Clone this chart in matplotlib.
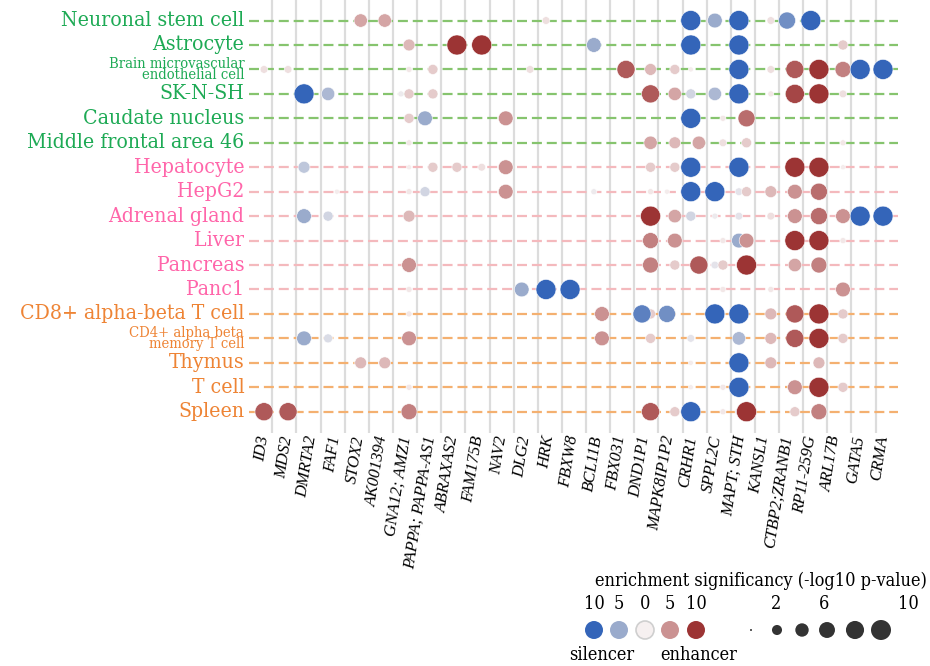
import numpy as np
import matplotlib
matplotlib.use("Agg")
import matplotlib.pyplot as plt
from matplotlib.colors import LinearSegmentedColormap

# ---------------- data ----------------
genes = ["ID3", "MDS2", "DMRTA2", "FAF1", "STOX2", "AK001394", "GNA12; AMZ1",
         "PAPPA; PAPPA-AS1", "ABRAXAS2", "FAM175B", "NAV2", "DLG2", "HRK", "FBXW8",
         "BCL11B", "FBX031", "DND1P1", "MAPK8IP1P2", "CRHR1", "SPPL2C", "MAPT; STH",
         "KANSL1", "CTBP2;ZRANB1", "RP11-259G", "ARL17B", "GATA5", "CRMA"]

tissues = ["Neuronal stem cell", "Astrocyte", "Brain microvascular\nendothelial cell",
           "SK-N-SH", "Caudate nucleus", "Middle frontal area 46",
           "Hepatocyte", "HepG2", "Adrenal gland", "Liver", "Pancreas", "Panc1",
           "CD8+ alpha-beta T cell", "CD4+ alpha beta\nmemory T cell", "Thymus",
           "T cell", "Spleen"]
tissue_group = ["brain"] * 6 + ["liver"] * 6 + ["immune"] * 5

# each dot: x position (gene-index units), signed enrichment (- silencer, + enhancer)
row_neuronal = [(4.06, 4), (5.07, 4), (11.84, 1), (17.92, -10), (18.93, -5), (19.94, -10),
                (21.28, 1), (21.96, -7), (22.96, -10)]
row_astro = [(6.09, 3), (8.10, 10), (9.14, 10), (13.85, -5), (17.92, -10), (19.94, -10), (24.31, 2)]
row_bmec = [(0.0, 1), (1.01, 1), (6.09, 0.5), (7.09, 2), (11.17, 1), (15.20, 8), (16.23, 3),
            (17.25, 2), (17.92, 0.3), (19.94, -10), (21.28, 1), (22.29, 8), (23.30, 10),
            (24.31, 6), (25.03, -10), (25.99, -10)]
row_sknsh = [(1.68, -10), (2.69, -4), (5.75, -0.5), (6.09, 2), (7.09, 2), (16.23, 8), (17.25, 4),
             (17.92, -2), (18.93, -4), (19.94, -10), (21.28, 0.5), (22.29, 9), (23.30, 10), (24.31, 1)]
row_caudate = [(6.09, 2), (6.76, -5), (10.15, 5), (17.92, -10), (19.27, 0.5), (20.26, 7)]
row_mfa46 = [(6.09, 0.5), (16.23, 4), (17.25, 3), (18.26, 4), (19.27, 1), (20.26, 2), (24.31, 0.5)]
row_hepatocyte = [(1.68, -3), (6.09, 0.3), (7.09, 2), (8.10, 2), (9.14, 1), (10.15, 5), (16.23, 2),
                  (17.25, 2), (17.92, -10), (19.94, -10), (22.29, 10), (23.30, 10), (24.31, 0.3)]
row_hepg2 = [(3.06, 0.3), (6.09, 0.5), (6.76, -2), (10.15, 5), (13.85, -0.5), (16.23, 0.5),
             (16.92, 0.3), (17.92, -10), (18.93, -10), (19.94, -1), (20.26, 2), (21.28, 3),
             (22.29, 5), (23.30, 7)]
row_adrenal = [(1.68, -5), (2.69, -2), (6.09, 3), (16.23, 10), (17.25, 4), (17.92, -2),
               (18.93, -0.5), (19.94, -1), (21.28, 1), (22.29, 5), (23.30, 7), (24.31, 5),
               (25.03, -10), (25.99, -10)]
row_liver = [(16.23, 6), (17.25, 5), (19.27, 0.5), (19.94, -5), (20.26, 5), (22.29, 10),
             (23.30, 10), (24.31, 0.5)]
row_pancreas = [(6.09, 5), (16.23, 6), (17.25, 2), (18.26, 8), (18.93, -1), (19.27, 2),
                (19.94, -0.5), (20.26, 10), (22.29, 4), (23.30, 6)]
row_panc1 = [(6.09, 0.5), (10.82, -5), (11.84, -10), (12.85, -10), (19.27, 0.5), (21.28, 0.5), (24.31, 5)]
row_cd8 = [(6.09, 0.5), (14.19, 5), (15.87, -8), (16.23, 2), (16.92, -7), (18.93, -10),
           (19.94, -10), (21.28, 3), (22.29, 8), (23.30, 10), (24.31, 2)]
row_cd4 = [(1.68, -5), (2.69, -1.5), (6.09, 5), (14.19, 5), (16.23, 2), (17.92, -1), (19.94, -4),
           (21.28, 3), (22.29, 8), (23.30, 10), (24.31, 2)]
row_thymus = [(4.06, 3), (5.07, 3), (17.92, 0.3), (19.94, -10), (21.28, 3), (23.30, 3)]
row_tcell = [(6.09, 0.5), (17.92, 0.3), (19.27, 0.5), (19.94, -10), (22.29, 5), (23.30, 10), (24.31, 2)]
row_spleen = [(0.0, 8), (1.01, 8), (6.09, 6), (16.23, 8), (17.25, 2), (17.92, -10), (19.27, 0.5),
              (19.94, -1), (20.26, 10), (22.29, 2), (23.30, 6)]

rows = [row_neuronal, row_astro, row_bmec, row_sknsh, row_caudate, row_mfa46,
        row_hepatocyte, row_hepg2, row_adrenal, row_liver, row_pancreas, row_panc1,
        row_cd8, row_cd4, row_thymus, row_tcell, row_spleen]

legend_color_vals = [-10, -5, 0, 5, 10]
legend_color_labels = ["10", "5", "0", "5", "10"]
legend_size_vals = [0, 2, 4, 6, 8, 10]

# ---------------- style ----------------
cmap = LinearSegmentedColormap.from_list(
    "sil_enh", ["#3465b9", "#9aabcc", "#f6f1f1", "#cc9393", "#9c3434"])
group_line = {"brain": "#86c46e", "liver": "#f4b9bd", "immune": "#f4b070"}
group_text = {"brain": "#1eaa55", "liver": "#ff66aa", "immune": "#ee8435"}

DPI = 100
SERIF = "DejaVu Serif"
STRETCH = "condensed"


def dot_area(v):
    d_px = 2 + 18 * np.sqrt(np.abs(np.asarray(v, float)) / 10.0)
    return (d_px * 72.0 / DPI) ** 2


fig = plt.figure(figsize=(9.30, 6.66), dpi=DPI)
ax = fig.add_axes([249 / 930, 1 - 433 / 666, (898 - 249) / 930, 433 / 666])
ax.set_xlim(-0.63, 26.62)
ax.set_ylim(16.87, -0.84)

# vertical grid
for gx in np.linspace(0.35, 25.68, 26):
    ax.axvline(gx, color="#dcdcdc", lw=1.6, zorder=0)

# horizontal dashed lines per tissue
for i, g in enumerate(tissue_group):
    ax.axhline(i, color=group_line[g], lw=1.6, dashes=(4.5, 2.2), zorder=1)

xs, ys, vs = [], [], []
for i, r in enumerate(rows):
    for x, v in r:
        xs.append(x); ys.append(i); vs.append(v)
xs = np.array(xs); ys = np.array(ys); vs = np.array(vs)
order = np.argsort(np.abs(vs))
ax.scatter(xs[order], ys[order], s=dot_area(vs[order]), c=vs[order], cmap=cmap,
           vmin=-10, vmax=10, edgecolors="white", linewidths=0.4, zorder=3)

for sp in ax.spines.values():
    sp.set_visible(False)
ax.set_yticks([])
ax.set_xticks(range(len(genes)))
ax.set_xticklabels(genes, rotation=81, ha="right", va="center", rotation_mode="anchor",
                   fontfamily="Liberation Serif", fontstyle="italic", fontsize=12)
ax.tick_params(axis="x", length=0, pad=2)

# row labels
for i, (t, g) in enumerate(zip(tissues, tissue_group)):
    two = "\n" in t
    fs = 10.6 if two else 15.2
    ax.text(-0.83, i, t, ha="right", va="center", color=group_text[g], fontsize=fs,
            fontfamily=SERIF, fontstretch=STRETCH, linespacing=0.72,
            transform=ax.transData, clip_on=False)

# ---------------- legend (overlay in pixel coords) ----------------
lg = fig.add_axes([0, 0, 1, 1], facecolor="none")
lg.set_xlim(0, 930); lg.set_ylim(666, 0); lg.axis("off")
tk = dict(fontsize=13, fontfamily=SERIF, fontstretch=STRETCH, va="center")
lg.text(927, 581, "enrichment significancy (-log10 p-value)", ha="right", **tk)
cx = [594, 619, 645, 670, 696]
lg.scatter(cx, [630] * 5, s=(18 * 0.72) ** 2, c=legend_color_vals, cmap=cmap, vmin=-10, vmax=10,
           edgecolors=["none", "none", "#cfcfcf", "none", "none"], linewidths=1.2)
for x, lab in zip(cx, legend_color_labels):
    lg.text(x, 604, lab, ha="center", **tk)
lg.text(602, 655, "silencer", ha="center", **tk)
lg.text(699, 655, "enhancer", ha="center", **tk)
sx = [751, 777, 802, 827, 855, 881]
lg.scatter(sx, [630] * 6, s=dot_area(legend_size_vals), c="#333333", edgecolors="none")
for x, lab in [(776, "2"), (824, "6"), (908, "10")]:
    lg.text(x, 604, lab, ha="center", **tk)

fig.savefig("out.png", dpi=DPI)
